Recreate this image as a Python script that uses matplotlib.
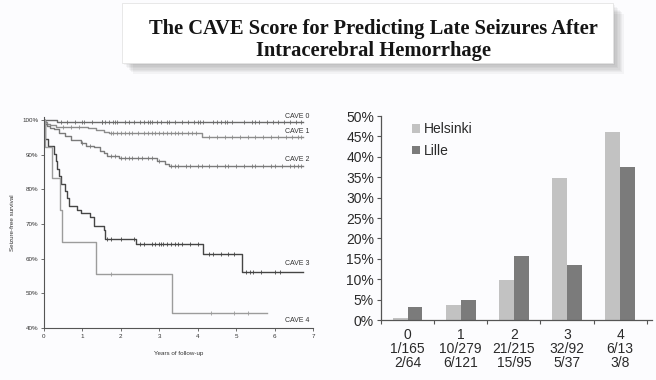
import numpy as np
import matplotlib
matplotlib.use("Agg")
import matplotlib.pyplot as plt
from matplotlib.patches import Rectangle

# Kaplan-Meier step data (years, % seizure-free)
cave0_t = [0, 0.35, 6.75]
cave0_s = [100, 99.4, 99.4]
cave1_t = [0, 0.03, 0.08, 0.15, 0.3, 1.15, 1.35, 1.55, 1.7, 4.1, 6.75]
cave1_s = [100, 99.4, 98.9, 98.5, 98.0, 97.6, 97.1, 96.7, 96.2, 95.1, 95.1]
cave2_t = [0, 0.02, 0.08, 0.15, 0.25, 0.4, 0.55, 0.7, 0.95, 1.1, 1.3, 1.45,
           1.55, 1.65, 1.95, 2.95, 3.15, 3.25, 6.75]
cave2_s = [100, 99.0, 98.4, 97.8, 97.3, 96.4, 95.4, 94.4, 93.5, 92.6, 92.1, 91.2,
           90.6, 89.7, 89.0, 88.1, 87.3, 86.9, 86.9]
cave3_t = [0, 0.03, 0.1, 0.25, 0.3, 0.35, 0.4, 0.45, 0.55, 0.6, 0.65, 0.85, 0.95,
           1.2, 1.3, 1.55, 1.6, 2.4, 4.15, 5.15, 6.75]
cave3_s = [100, 94.6, 92.5, 90.3, 88.2, 86.0, 83.9, 81.7, 79.5, 77.4, 75.3, 74.2, 73.1,
           72.0, 69.4, 68.3, 65.6, 64.2, 61.3, 56.3, 56.3]
cave4_t = [0, 0.03, 0.2, 0.42, 0.47, 1.35, 3.33, 5.8]
cave4_s = [100, 92.3, 83.2, 74.0, 64.7, 55.5, 44.4, 44.4]

# censoring times
cave0_c = [0.45, 0.6, 0.8, 1.0, 1.05, 1.25, 1.5, 1.52, 1.6, 1.7, 1.8, 1.85, 1.9, 2.1, 2.2,
           2.35, 2.5, 2.6, 2.7, 2.75, 2.8, 2.95, 3.05, 3.2, 3.25, 3.4, 3.6, 3.75, 3.9, 4.0,
           4.05, 4.15, 4.4, 4.5, 4.6, 4.7, 4.75, 4.9, 5.2, 5.4, 5.5, 5.6, 5.8, 5.95, 6.1,
           6.25, 6.4, 6.55, 6.7]
cave1_c = [0.5, 0.7, 0.9, 1.75, 1.8, 1.9, 2.0, 2.1, 2.2, 2.3, 2.45, 2.6, 2.7, 2.8, 2.9,
           3.0, 3.1, 3.2, 3.3, 3.4, 3.5, 3.6, 3.75, 3.85, 3.95, 4.3, 4.5, 4.7, 4.9, 5.1,
           5.3, 5.5, 5.7, 5.9, 6.1, 6.3, 6.45, 6.6, 6.7]
cave2_c = [1.0, 1.2, 1.75, 1.85, 2.0, 2.1, 2.2, 2.3, 2.45, 2.55, 2.7, 2.8, 3.0, 3.3, 3.4,
           3.5, 3.7, 3.8, 4.0, 4.1, 4.3, 4.5, 4.7, 4.8, 5.0, 5.2, 5.4, 5.5, 5.7, 5.9,
           6.0, 6.2, 6.4, 6.5, 6.6, 6.7]
cave3_c = [1.65, 1.75, 2.0, 2.35, 2.5, 2.6, 2.8, 2.9, 3.0, 3.05, 3.1, 3.2, 3.3, 3.4, 3.5,
           3.6, 3.8, 4.0, 4.3, 4.4, 4.6, 4.8, 4.95, 5.25, 5.35, 5.45, 5.65, 6.0, 6.15]
cave4_c = [1.75, 4.35, 4.95, 5.3]

cave_names = ["CAVE 0", "CAVE 1", "CAVE 2", "CAVE 3", "CAVE 4"]
label_y = [100.9, 96.8, 88.7, 58.5, 42.3]

# bar chart data
scores = ["0", "1", "2", "3", "4"]
helsinki_n = ["1/165", "10/279", "21/215", "32/92", "6/13"]
lille_n = ["2/64", "6/121", "15/95", "5/37", "3/8"]
helsinki = [1 / 165, 10 / 279, 21 / 215, 32 / 92, 6 / 13]
lille = [2 / 64, 6 / 121, 15 / 95, 5 / 37, 3 / 8]


def surv_at(t, times, surv):
    idx = np.searchsorted(times, t, side="right") - 1
    return np.array(surv)[idx]


fig = plt.figure(figsize=(6.56, 3.8), dpi=100)
fig.patch.set_facecolor("#fcfcfe")

# title box with soft shadow
for i in range(8):
    d = 1.0 + i * 1.4
    fig.patches.append(Rectangle(((122 + d) / 656, 1 - (63 + d) / 380), 491 / 656, 60 / 380,
                                 transform=fig.transFigure, facecolor="#000000",
                                 alpha=0.035, edgecolor="none", zorder=0))
fig.patches.append(Rectangle((122 / 656, 1 - 63 / 380), 491 / 656, 60 / 380,
                             transform=fig.transFigure, facecolor="white",
                             edgecolor="#e4e4e4", linewidth=0.6, zorder=1))
fig.text(373 / 656, 1 - 40 / 380,
         "The CAVE Score for Predicting Late Seizures After\nIntracerebral Hemorrhage",
         ha="center", va="center", family="Liberation Serif", fontweight="bold",
         fontsize=14.8, color="#151515", linespacing=1.12, zorder=2)

# Kaplan-Meier panel
ax1 = fig.add_axes([44 / 656, 1 - 328 / 380, 269 / 656, 211 / 380])
ax1.set_facecolor("#fcfcfe")
curves = [(cave0_t, cave0_s, cave0_c, "#6a6a6a"),
          (cave1_t, cave1_s, cave1_c, "#8c8c8c"),
          (cave2_t, cave2_s, cave2_c, "#7a7a7a"),
          (cave3_t, cave3_s, cave3_c, "#454545"),
          (cave4_t, cave4_s, cave4_c, "#9c9c9c")]
for (t, s, c, col), name, ly in zip(curves, cave_names, label_y):
    ax1.step(t, s, where="post", color=col, linewidth=1.0)
    ax1.plot(c, surv_at(c, t, s), linestyle="none", marker="|", markersize=2.8,
             markeredgewidth=0.6, color=col)
    ax1.text(6.9, ly, name, ha="right", va="center", fontsize=5,
             family="Liberation Sans", color="#333333")

ax1.set_xlim(0, 7)
ax1.set_ylim(40, 100.9)
ax1.set_xticks(range(8))
ax1.set_yticks(range(40, 101, 10))
ax1.set_yticklabels([f"{v}%" for v in range(40, 101, 10)])
for sp in ["top", "right"]:
    ax1.spines[sp].set_visible(False)
for sp in ["left", "bottom"]:
    ax1.spines[sp].set_color("#555555")
    ax1.spines[sp].set_linewidth(0.8)
ax1.tick_params(labelsize=4.5, length=2.5, width=0.6, colors="#555555", pad=1.5,
                labelcolor="#333333")
for lab in ax1.get_xticklabels() + ax1.get_yticklabels():
    lab.set_family("Liberation Sans")
ax1.set_xlabel("Years of follow-up", fontsize=4.5, family="Liberation Sans",
               color="#333333", labelpad=9)
ax1.set_ylabel("Seizure-free survival", fontsize=4.5, family="Liberation Sans",
               color="#333333", labelpad=5)

# bar panel
ax2 = fig.add_axes([381 / 656, 1 - 320 / 380, 271 / 656, 204 / 380])
ax2.set_facecolor("#fcfcfe")
x = np.arange(len(scores))
w = 0.28
ax2.bar(x - w / 2, helsinki, w, color="#c2c2c2", label="Helsinki")
ax2.bar(x + w / 2, lille, w, color="#7b7b7b", label="Lille")
ax2.set_xlim(-0.5, 4.6)
ax2.set_ylim(0, 0.5)
ax2.set_yticks(np.arange(0, 0.51, 0.05))
ax2.set_yticklabels([f"{int(round(v * 100))}%" for v in np.arange(0, 0.51, 0.05)])
ax2.set_xticks(x)
ax2.set_xticklabels([f"{a}\n{b}\n{c}" for a, b, c in zip(scores, helsinki_n, lille_n)])
ax2.set_xticks(np.arange(-0.5, 5, 1), minor=True)
for sp in ["top", "right"]:
    ax2.spines[sp].set_visible(False)
for sp in ["left", "bottom"]:
    ax2.spines[sp].set_color("#555555")
    ax2.spines[sp].set_linewidth(0.9)
ax2.tick_params(axis="y", labelsize=10, length=3, width=0.8, colors="#555555",
                labelcolor="#2a2a2a", pad=2)
ax2.tick_params(axis="x", which="major", length=0, labelsize=10, labelcolor="#2a2a2a",
                pad=6)
ax2.tick_params(axis="x", which="minor", length=3, width=0.8, colors="#555555")
for lab in ax2.get_xticklabels() + ax2.get_yticklabels():
    lab.set_family("Liberation Sans")
    lab.set_linespacing(1.0)
leg = ax2.legend(loc="upper left", bbox_to_anchor=(0.07, 1.03), frameon=False,
                 prop={"family": "Liberation Sans", "size": 10}, handlelength=0.55,
                 handleheight=0.55, handletextpad=0.3, labelspacing=0.55)
for txt in leg.get_texts():
    txt.set_color("#2a2a2a")

fig.savefig("out.png", dpi=100, facecolor=fig.get_facecolor())
